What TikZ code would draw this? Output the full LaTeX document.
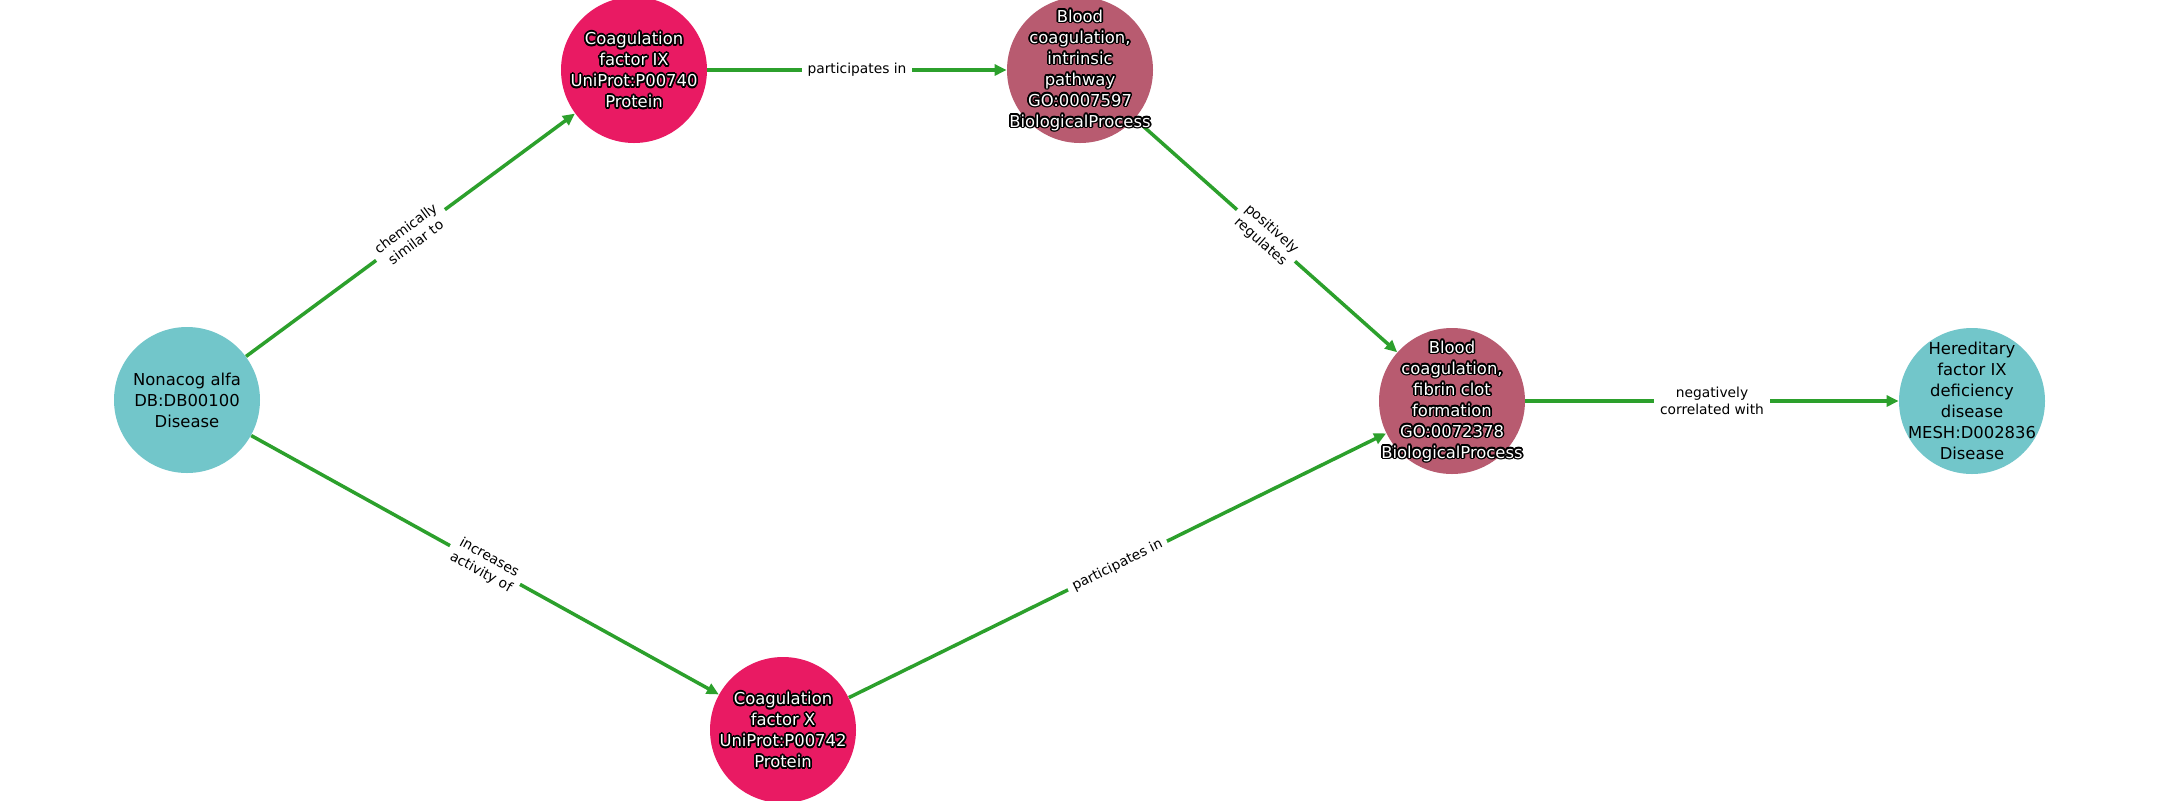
\documentclass[tikz,border=0pt]{standalone}
\usepackage{fontspec}
\setmainfont{DejaVu Sans}
\usetikzlibrary{arrows.meta}
\definecolor{discol}{HTML}{72C6CA}
\definecolor{protcol}{HTML}{E91A63}
\definecolor{proccol}{HTML}{B85B70}
\definecolor{edgecol}{HTML}{2CA02C}
\tikzset{
  entity/.style={circle, minimum size=73pt, inner sep=0pt, draw=none},
  nodetext/.style={align=center, inner sep=0pt, font=\fontsize{8.2}{10.5}\selectfont},
  edgeline/.style={draw=edgecol, line width=1.75pt, -{Triangle[length=6pt,width=5.5pt]}},
  elabel/.style={midway, sloped, fill=white, align=center, inner xsep=2.8pt, inner ysep=1.2pt, text=black,
    font=\fontsize{6.9}{8.5}\selectfont}
}
\newcommand\halolabel[2]{%
  \foreach \ang in {0,30,...,330} {\node[nodetext,text=black] at ([shift={(\ang:0.85pt)}]#1) {#2};}
  \node[nodetext,text=white] at (#1) {#2};}
\begin{document}
\begin{tikzpicture}[x=0.5pt,y=-0.5pt]
\useasboundingbox (0,0) rectangle (2160,800);
\fill[white] (0,0) rectangle (2160,800);
% circles
\node[entity, fill=discol] (non) at (187,400) {};
\node[entity, fill=protcol] (ix) at (634,70) {};
\node[entity, fill=proccol] (intr) at (1080,70) {};
\node[entity, fill=proccol] (fib) at (1452,401) {};
\node[entity, fill=discol] (her) at (1972,401) {};
\node[entity, fill=protcol] (x) at (783,730) {};
% edges
\draw[edgeline] (non) -- node[elabel]{chemically\\similar to} (ix);
\draw[edgeline] (non) -- node[elabel]{increases\\activity of} (x);
\draw[edgeline] (ix) -- node[elabel]{participates in} (intr);
\draw[edgeline] (intr) -- node[elabel]{positively\\regulates} (fib);
\draw[edgeline] (x) -- node[elabel]{participates in} (fib);
\draw[edgeline] (fib) -- node[elabel]{negatively\\correlated with} (her);
% texts
\node[nodetext, text=black] (nontext) at (non) {Nonacog alfa\\DB:DB00100\\Disease};
\node[nodetext, text=black] (hertext) at (her) {Hereditary\\factor IX\\deficiency\\disease\\MESH:D002836\\Disease};
\halolabel{ix}{Coagulation\\factor IX\\UniProt:P00740\\Protein}
\halolabel{x}{Coagulation\\factor X\\UniProt:P00742\\Protein}
\halolabel{intr}{Blood\\coagulation,\\intrinsic\\pathway\\GO:0007597\\BiologicalProcess}
\halolabel{fib}{Blood\\coagulation,\\fibrin clot\\formation\\GO:0072378\\BiologicalProcess}
\end{tikzpicture}
\end{document}
